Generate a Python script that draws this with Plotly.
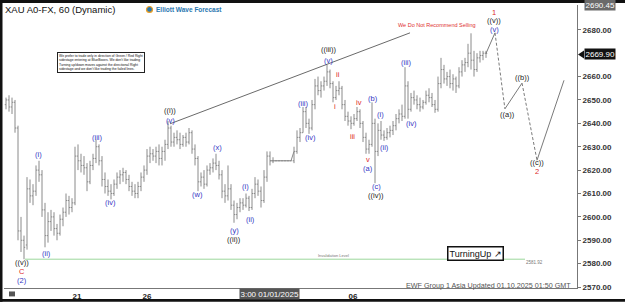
import plotly.graph_objects as go

# ---------------- data ----------------
opens = [2648, 2650, 2647, 2649, 2638, 2594, 2590, 2588, 2612, 2609,
         2611, 2620, 2618, 2603, 2592, 2598, 2600, 2595, 2593, 2599,
         2602, 2607, 2604, 2606, 2626, 2624, 2622, 2621, 2615, 2622,
         2625, 2630, 2624, 2616, 2613, 2611, 2610, 2614, 2617, 2618,
         2619, 2616, 2613, 2611, 2610, 2613, 2617, 2620, 2626, 2627,
         2626, 2628, 2625, 2628, 2631, 2638, 2632, 2634, 2633, 2631,
         2634, 2632, 2636, 2629, 2625, 2615, 2617, 2614, 2620, 2621,
         2623, 2622, 2618, 2611, 2609, 2612, 2605, 2601, 2604, 2606,
         2605, 2608, 2604, 2610, 2614, 2611, 2607, 2617, 2626, 2624,
         2624, 2624, 2624, 2624, 2624, 2624, 2624, 2628, 2634, 2636,
         2645, 2640, 2638, 2648, 2656, 2654, 2656, 2658, 2662, 2657,
         2651, 2654, 2655, 2648, 2643, 2641, 2640, 2642, 2645, 2640,
         2634, 2629, 2631, 2640, 2628, 2637, 2635, 2634, 2636, 2637,
         2639, 2642, 2644, 2643, 2656, 2646, 2651, 2650, 2648, 2647,
         2649, 2652, 2651, 2648, 2646, 2657, 2663, 2659, 2660, 2657,
         2659, 2656, 2662, 2665, 2666, 2670, 2667, 2663, 2668, 2669,
         2670]
highs = [2651, 2652, 2651, 2650, 2639, 2600, 2592, 2617, 2616, 2614,
         2622, 2624, 2620, 2606, 2602, 2603, 2602, 2597, 2601, 2604,
         2610, 2609, 2608, 2630, 2631, 2627, 2626, 2623, 2624, 2627,
         2633, 2631, 2626, 2619, 2616, 2614, 2616, 2619, 2620, 2621,
         2620, 2618, 2615, 2614, 2615, 2619, 2622, 2629, 2630, 2629,
         2630, 2631, 2630, 2633, 2641, 2639, 2636, 2637, 2636, 2635,
         2636, 2638, 2637, 2631, 2626, 2619, 2620, 2622, 2623, 2625,
         2627, 2624, 2620, 2614, 2622, 2614, 2607, 2606, 2608, 2608,
         2610, 2609, 2612, 2617, 2616, 2613, 2620, 2628, 2628, 2625.5,
         2624, 2624, 2624, 2624, 2624, 2624, 2630, 2637, 2638, 2647,
         2647, 2642, 2650, 2659, 2660, 2658, 2660, 2665, 2663, 2658,
         2656, 2658, 2656, 2650, 2645, 2643, 2644, 2647, 2646, 2641,
         2636, 2633, 2649, 2642, 2640, 2641, 2637, 2638, 2639, 2641,
         2644, 2646, 2648, 2664, 2658, 2653, 2654, 2652, 2651, 2650,
         2654, 2655, 2653, 2650, 2660, 2668, 2665, 2662, 2663, 2661,
         2660, 2664, 2667, 2668, 2674, 2678.5, 2671, 2670, 2671, 2671,
         2671]
lows = [2646, 2645, 2644, 2636, 2590, 2585, 2581.92, 2586, 2606, 2605,
        2609, 2615, 2600, 2587, 2589, 2594, 2592, 2590, 2592, 2596,
        2600, 2601, 2602, 2605, 2620, 2619, 2618, 2611, 2614, 2620,
        2623, 2622, 2613, 2610, 2609, 2607.5, 2609, 2612, 2614, 2615,
        2614, 2611, 2609, 2608, 2608, 2611, 2615, 2618, 2623, 2624,
        2623, 2622, 2622, 2624, 2629, 2630, 2630, 2631, 2629, 2630,
        2630, 2631, 2627, 2622, 2611, 2613, 2612, 2613, 2618, 2619,
        2620, 2616, 2608, 2606, 2607, 2603, 2597.5, 2599, 2602, 2603,
        2604, 2602.5, 2603, 2608, 2609, 2604, 2606, 2615, 2622, 2623,
        2624, 2624, 2624, 2624, 2624, 2624, 2623, 2627, 2632, 2636,
        2638, 2635.5, 2637, 2646, 2652, 2651, 2654, 2656, 2655, 2649,
        2650, 2652, 2646, 2641, 2639, 2637.5, 2639, 2641, 2638, 2632,
        2627, 2627, 2630, 2614.4, 2626, 2633, 2632.5, 2633, 2634, 2635,
        2637, 2640, 2641, 2642, 2642, 2645, 2648, 2646, 2645, 2646,
        2648, 2649, 2647, 2644.5, 2645, 2655, 2657, 2656, 2655, 2654,
        2653, 2655, 2660, 2662, 2664, 2663, 2660, 2662, 2666, 2667,
        2668]
closes = [2650, 2647, 2649, 2638, 2594, 2590, 2587, 2612, 2609, 2611,
          2620, 2618, 2603, 2592, 2598, 2600, 2595, 2593, 2599, 2602,
          2607, 2604, 2606, 2626, 2624, 2622, 2621, 2615, 2622, 2625,
          2630, 2624, 2616, 2613, 2611, 2610, 2614, 2617, 2618, 2619,
          2616, 2613, 2611, 2610, 2613, 2617, 2620, 2626, 2627, 2626,
          2628, 2625, 2628, 2631, 2638, 2632, 2634, 2633, 2631, 2634,
          2632, 2636, 2629, 2625, 2615, 2617, 2614, 2620, 2621, 2623,
          2622, 2618, 2611, 2609, 2612, 2605, 2601, 2604, 2606, 2605,
          2608, 2604, 2610, 2614, 2611, 2607, 2617, 2626, 2624, 2624,
          2624, 2624, 2624, 2624, 2624, 2624, 2628, 2634, 2636, 2645,
          2640, 2638, 2648, 2656, 2654, 2656, 2658, 2662, 2657, 2651,
          2654, 2655, 2648, 2643, 2641, 2640, 2642, 2645, 2640, 2634,
          2629, 2631, 2640, 2628, 2637, 2635, 2634, 2636, 2637, 2639,
          2642, 2644, 2643, 2656, 2646, 2651, 2650, 2648, 2647, 2649,
          2652, 2651, 2648, 2646, 2657, 2663, 2659, 2660, 2657, 2659,
          2656, 2662, 2665, 2666, 2670, 2667, 2663, 2668, 2669, 2670,
          2669.9]
bar_index = list(range(len(closes)))
holiday_start, holiday_end = 88, 97   # flat (holiday) stretch of bars

# projected path: last bar -> 1 -> ((a)) -> ((b)) -> ((c)) -> up
proj_x = [160, 163, 166.3, 172, 177, 186]
proj_y = [2669.9, 2678.7, 2646.2, 2657.2, 2624.2, 2658.4]

trend_x = [54.67, 134.67]
trend_y = [2639.8, 2678.7]

invalidation = 2581.92
inval_x = [6.3, 173]

y_ticks = [2570, 2580, 2590, 2600, 2610, 2620, 2630, 2640, 2650, 2660, 2680]
x_tick_vals = [23.67, 47, 115.67]
x_tick_text = ["21", "26", "06"]

BLUE = "#3535c4"
RED = "#dd2a2a"
BLACK = "#222222"
# (text, x-index, price, colour)
wave_labels = [
    ("((v))", 5.33, 2580.4, BLACK), ("C", 5.33, 2576.8, RED), ("(2)", 5.33, 2572.8, BLUE),
    ("(i)", 10.67, 2626.7, BLUE), ("(ii)", 13.33, 2584.4, BLUE),
    ("(iii)", 30.33, 2633.9, BLUE), ("(iv)", 34.67, 2606.0, BLUE),
    ("((i))", 54.67, 2645.6, BLACK), ("(v)", 54.67, 2641.1, BLUE),
    ("(w)", 63.67, 2609.4, BLUE), ("(x)", 70.33, 2629.7, BLUE),
    ("(y)", 76, 2594.4, BLUE), ("((ii))", 76, 2590.4, BLACK),
    ("(i)", 79.67, 2613.2, BLUE), ("(ii)", 81.33, 2598.8, BLUE),
    ("(iii)", 99, 2648.7, BLUE), ("(iv)", 101.33, 2633.9, BLUE),
    ("((iii))", 107.33, 2671.4, BLACK), ("(v)", 107.33, 2666.9, BLUE),
    ("i", 109.67, 2647.4, RED), ("ii", 110.67, 2661.0, RED),
    ("iii", 115.33, 2634.3, RED), ("iv", 117.67, 2649.1, RED),
    ("v", 120.67, 2624.4, RED), ("(a)", 120.67, 2620.6, BLUE),
    ("(b)", 122.33, 2650.8, BLUE),
    ("(c)", 123.33, 2612.8, BLUE), ("((iv))", 123.33, 2609.0, BLACK),
    ("(i)", 124.67, 2643.6, BLUE), ("(ii)", 126, 2629.7, BLUE),
    ("(iii)", 133.33, 2666.0, BLUE), ("(iv)", 135, 2639.8, BLUE),
    ("1", 162.67, 2687.3, RED), ("((v))", 162.67, 2683.8, BLACK), ("(v)", 162.67, 2680.2, BLUE),
    ("((a))", 167, 2643.6, BLACK), ("((b))", 172, 2659.7, BLACK),
    ("((c))", 177, 2623.1, BLACK), ("2", 177, 2619.3, RED),
]

FONT = "Liberation Sans, Arial, sans-serif"
BAR = "#8a8a8a"

fig = go.Figure()
fig.add_trace(go.Ohlc(
    x=bar_index, open=opens, high=highs, low=lows, close=closes,
    increasing_line_color=BAR, decreasing_line_color=BAR,
    line_width=1, tickwidth=0.4, showlegend=False, hoverinfo="skip"))
# holiday stretch drawn as a continuous flat line through the closes
fig.add_trace(go.Scatter(x=bar_index[holiday_start:holiday_end], y=closes[holiday_start:holiday_end],
                         mode="lines", line=dict(color=BAR, width=1), showlegend=False, hoverinfo="skip"))

fig.add_trace(go.Scatter(x=trend_x, y=trend_y, mode="lines",
                         line=dict(color="#6a6a6a", width=1), showlegend=False, hoverinfo="skip"))
fig.add_trace(go.Scatter(x=inval_x, y=[invalidation, invalidation], mode="lines",
                         line=dict(color="#9bd79b", width=1), showlegend=False, hoverinfo="skip"))
styles = ["solid", "3px,2px", "solid", "3px,2px", "solid"]
for k in range(len(proj_x) - 1):
    fig.add_trace(go.Scatter(x=proj_x[k:k + 2], y=proj_y[k:k + 2], mode="lines",
                             line=dict(color="#7a7a7a", width=1, dash=styles[k]),
                             showlegend=False, hoverinfo="skip"))

ann = []
for t, xi, yi, c in wave_labels:
    ann.append(dict(x=xi, y=yi, xref="x", yref="y", text=t, showarrow=False,
                    font=dict(family=FONT, size=7.5, color=c), xanchor="center", yanchor="middle"))

ann += [
    dict(x=143.67, y=2682.1, xref="x", yref="y", text="We Do Not Recommend Selling", showarrow=False,
         font=dict(family=FONT, size=5.5, color="#e03030")),
    dict(x=109, y=2583.6, xref="x", yref="y", text="Invalidation Level", showarrow=False,
         font=dict(family=FONT, size=4, color="#777")),
    dict(x=176.3, y=2580.6, xref="x", yref="y", text="2581.92", showarrow=False,
         font=dict(family=FONT, size=4.5, color="#777")),
]

L, R, T, B = 4, 48, 5, 14
W, H = 625, 305
pw, ph = W - L - R, H - T - B

def px(x):
    return (x - L) / pw

def py(y):
    return (H - B - y) / ph

def pix_text(x, y, text, xanchor="center", **kw):
    d = dict(x=px(x), y=py(y), xref="paper", yref="paper", text=text, showarrow=False,
             xanchor=xanchor, yanchor="middle")
    d.update(kw)
    return d

ann += [
    pix_text(3, 9.5, "XAU A0-FX, 60 (Dynamic)", xanchor="left",
             font=dict(family=FONT, size=9.5, color="#111")),
    pix_text(154, 9.5, "<b>Elliott Wave Forecast</b>", xanchor="left",
             font=dict(family=FONT, size=6.5, color="#2a78b0")),
    pix_text(101, 63.5,
             "We prefer to trade only in direction of Green / Red Right<br>"
             "sidestage entering at BlueBoxes. We don't like trading<br>"
             "Turning up/down moves against the directional Right<br>"
             "sidestage and we don't like trading the failed lines.",
             align="left", font=dict(family=FONT, size=3.4, color="#111"),
             bordercolor="#222", borderwidth=1, borderpad=1, bgcolor="white"),
    pix_text(475.5, 256, "TurningUp ↗", font=dict(family=FONT, size=9, color="#111"),
             bordercolor="#111", borderwidth=1.5, borderpad=1, bgcolor="white"),
    pix_text(573, 288.5, "EWF Group 1 Asia Updated 01.10.2025 01:50 GMT", xanchor="right",
             font=dict(family=FONT, size=7.2, color="#555")),
    pix_text(269, 297.5, "3:00 01/01/2025", font=dict(family=FONT, size=8, color="white"),
             bgcolor="#555", borderpad=0.5),
    pix_text(584, 5, "2690.45", xanchor="left", font=dict(family=FONT, size=8, color="white"),
             bgcolor="#6a6a6a", borderpad=0.5),
    pix_text(584, 55, "2669.90", xanchor="left", font=dict(family=FONT, size=8, color="white"),
             bgcolor="#111", borderpad=0.5),
]

shapes = [
    dict(type="rect", xref="paper", yref="paper", x0=px(0), x1=px(625), y0=py(0), y1=py(3),
         fillcolor="#111", line_width=0, layer="above"),
    dict(type="rect", xref="paper", yref="paper", x0=px(0), x1=px(625), y0=py(302), y1=py(305),
         fillcolor="#111", line_width=0, layer="above"),
    dict(type="rect", xref="paper", yref="paper", x0=px(0), x1=px(2.5), y0=py(0), y1=py(305),
         fillcolor="#111", line_width=0, layer="above"),
    dict(type="circle", xref="paper", yref="paper", x0=px(146.5), x1=px(152.5), y0=py(6.5), y1=py(12.5),
         fillcolor="#2a78b0", line=dict(color="#f0a020", width=1.2)),
    dict(type="path", xref="paper", yref="paper",
         path=f"M {px(578)} {py(55)} L {px(584)} {py(51)} L {px(584)} {py(59)} Z",
         fillcolor="#111", line_width=0),
    dict(type="rect", xref="paper", yref="paper", x0=px(9), x1=px(15), y0=py(294.5), y1=py(299.5),
         fillcolor="#555", line_width=0),
]

fig.update_layout(
    width=W, height=H, margin=dict(l=L, r=R, t=T, b=B),
    paper_bgcolor="white", plot_bgcolor="white",
    annotations=ann, shapes=shapes, showlegend=False,
    xaxis=dict(range=[-0.67, 190.33], rangeslider=dict(visible=False), showgrid=False, zeroline=False,
               tickmode="array", tickvals=x_tick_vals, ticktext=[f"<b>{t}</b>" for t in x_tick_text],
               ticks="", tickfont=dict(family=FONT, size=8, color="#222"), showline=True,
               linecolor="#777", linewidth=1),
    yaxis=dict(side="right", range=[2569.6, 2690.6], showgrid=False, zeroline=False,
               tickmode="array", tickvals=y_ticks, ticktext=[f"<b>{v:.2f}</b>" for v in y_ticks],
               ticks="outside", ticklen=3, tickcolor="#777",
               tickfont=dict(family=FONT, size=8, color="#333"), showline=True, linecolor="#777",
               linewidth=1),
)

fig.write_html("out.html")
